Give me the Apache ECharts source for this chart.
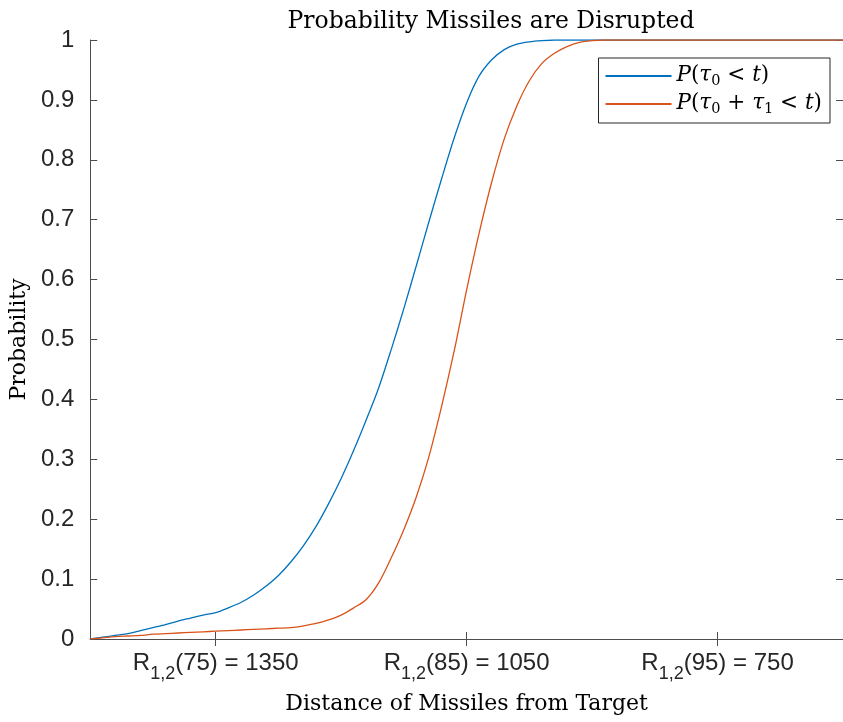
<!DOCTYPE html>
<html>
<head>
<meta charset="utf-8">
<script src="https://cdn.jsdelivr.net/npm/echarts@6/dist/echarts.min.js"></script>
<style>html,body{margin:0;padding:0;background:#fff}#c{width:843px;height:722px}</style>
</head>
<body>
<div id="c"></div>
<script>
// time values (x)
const tValues = [70,70.5,71,71.5,72,72.5,73,73.5,74,74.5,75,75.5,76,76.5,77,77.5,78,78.5,79,79.5,80,80.5,81,81.5,82,82.5,83,83.5,84,84.5,85,85.5,86,86.5,87,87.5,88,88.5,89,89.5,90,90.5,91,100];
// P(tau0 < t)
const pTau0 = [0,0.003,0.006,0.009,0.014,0.019,0.024,0.030,0.035,0.040,0.044,0.052,0.061,0.073,0.088,0.106,0.129,0.156,0.188,0.226,0.268,0.315,0.366,0.420,0.484,0.552,0.624,0.697,0.768,0.836,0.895,0.940,0.967,0.984,0.993,0.997,0.999,1,1,1,1,1,1,1];
// P(tau0 + tau1 < t)
const pTau01 = [0,0.002,0.004,0.005,0.006,0.008,0.009,0.010,0.011,0.012,0.013,0.014,0.015,0.016,0.017,0.018,0.019,0.022,0.026,0.032,0.040,0.052,0.066,0.094,0.136,0.183,0.238,0.305,0.388,0.480,0.583,0.678,0.763,0.835,0.890,0.932,0.961,0.978,0.989,0.996,0.999,1,1,1];
// x tick positions and labels
const xTickValues = [75, 85, 95];
const xTickLabels = [
  {main: 'R', sub: '1,2', rest: '(75) = 1350'},
  {main: 'R', sub: '1,2', rest: '(85) = 1050'},
  {main: 'R', sub: '1,2', rest: '(95) = 750'}
];
const yTicks = ['0','0.1','0.2','0.3','0.4','0.5','0.6','0.7','0.8','0.9','1'];
const seriesNames = ['tau0', 'tau01'];

const axisColor = '#4d4d4d';
const labelColor = '#262626';
const serif = 'DejaVu Serif';

function pairs(xs, ys) { return xs.map((x, i) => [x, ys[i]]); }

const chart = echarts.init(document.getElementById('c'));
const commonX = {
  type: 'value', min: 70, max: 100,
  splitLine: {show: false},
  axisLine: {show: true, lineStyle: {color: axisColor, width: 1}},
  axisTick: {show: true, inside: true, length: 7, customValues: xTickValues, lineStyle: {color: axisColor}},
};
const commonY = {
  type: 'value', min: 0, max: 1, interval: 0.1,
  splitLine: {show: false},
  axisLine: {show: true, lineStyle: {color: axisColor, width: 1}},
  axisTick: {show: true, inside: true, length: 7, lineStyle: {color: axisColor}},
};
chart.setOption({
  animation: false,
  backgroundColor: '#fff',
  title: {
    text: 'Probability Missiles are Disrupted',
    left: 486, top: 5, textAlign: 'center',
    textStyle: {fontFamily: serif, fontSize: 23.5, fontWeight: 'normal', color: '#000'}
  },
  grid: {left: 90, right: -7, top: 40, bottom: 83, show: false},
  legend: {
    data: seriesNames,
    orient: 'vertical',
    right: 13, top: 58,
    itemWidth: 66, itemHeight: 25, itemGap: 3,
    padding: [6, 8, 6, 6],
    borderColor: '#262626', borderWidth: 1, backgroundColor: '#fff',
    itemStyle: {opacity: 0},
    formatter: function (name) {
      if (name === 'tau0') return '{i|P}{n|(}{i|τ}{s|0}{n| < }{i|t}{n|)}';
      return '{i|P}{n|(}{i|τ}{s|0}{n| + }{i|τ}{s|1}{n| < }{i|t}{n|)}';
    },
    textStyle: {
      color: '#000',
      rich: {
        i: {fontFamily: serif, fontStyle: 'italic', fontSize: 21.5, lineHeight: 24, verticalAlign: 'top', color: '#000'},
        n: {fontFamily: serif, fontSize: 21.5, lineHeight: 24, verticalAlign: 'top', color: '#000'},
        s: {fontFamily: serif, fontSize: 14.5, lineHeight: 14, padding: [10, 0, 0, 0], verticalAlign: 'top', color: '#000'}
      }
    }
  },
  xAxis: [
    Object.assign({}, commonX, {
      position: 'bottom',
      name: 'Distance of Missiles from Target',
      nameLocation: 'middle', nameGap: 54,
      nameTextStyle: {fontFamily: serif, fontSize: 22, color: '#000'},
      axisLabel: {
        show: true, customValues: xTickValues, margin: 12,
        formatter: function (v) {
          const i = xTickValues.indexOf(v);
          if (i < 0) return '';
          const l = xTickLabels[i];
          return '{r|' + l.main + '}{s|' + l.sub + '}{r|' + l.rest + '}';
        },
        rich: {
          r: {fontFamily: 'Liberation Sans', fontSize: 24, lineHeight: 26, verticalAlign: 'top', color: labelColor},
          s: {fontFamily: 'Liberation Sans', fontSize: 18, lineHeight: 18, padding: [14, 0, 0, 0], verticalAlign: 'top', color: labelColor}
        }
      }
    }),
    Object.assign({}, commonX, {position: 'top', axisLabel: {show: false}})
  ],
  yAxis: [
    Object.assign({}, commonY, {
      position: 'left',
      name: 'Probability', nameLocation: 'middle', nameGap: 52,
      nameTextStyle: {fontFamily: serif, fontSize: 22, color: '#000'},
      axisLabel: {
        show: true, margin: 16, fontFamily: 'Liberation Sans', fontSize: 24, color: labelColor,
        formatter: function (v) { return yTicks[Math.round(v * 10)]; }
      }
    }),
    Object.assign({}, commonY, {position: 'right', axisLabel: {show: false}})
  ],
  series: [
    {
      name: seriesNames[0], type: 'line', data: pairs(tValues, pTau0),
      symbol: 'none', smooth: 0.3,
      lineStyle: {color: '#0072BD', width: 1.3}, itemStyle: {color: '#0072BD'}
    },
    {
      name: seriesNames[1], type: 'line', data: pairs(tValues, pTau01),
      symbol: 'none', smooth: 0.3,
      lineStyle: {color: '#D95319', width: 1.3}, itemStyle: {color: '#D95319'}
    }
  ]
});
</script>
</body>
</html>
